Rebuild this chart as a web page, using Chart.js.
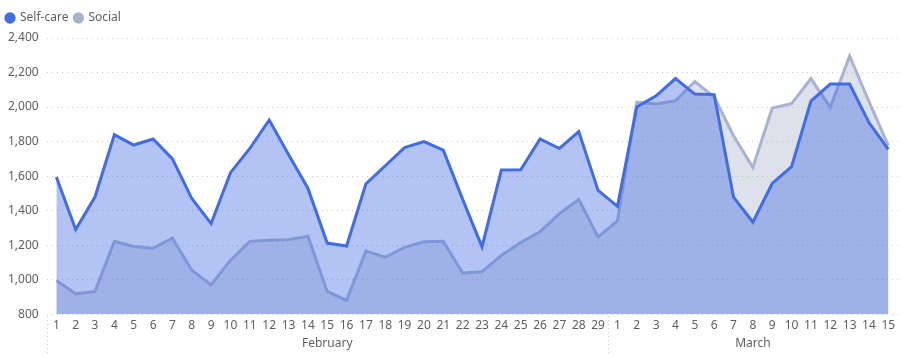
<!DOCTYPE html>
<html>
<head>
<meta charset="utf-8">
<script src="https://cdn.jsdelivr.net/npm/chart.js@4/dist/chart.umd.min.js"></script>
<style>
  html, body { margin: 0; padding: 0; background: #fff; }
  #wrap { width: 902px; height: 357px; position: relative; }
</style>
</head>
<body>
<div id="wrap"><canvas id="c" width="902" height="357"></canvas></div>
<script>
// ---- Data ----
const months = ['February', 'March'];
const monthDayCounts = [29, 15];
const dayLabels = [
  '1','2','3','4','5','6','7','8','9','10','11','12','13','14','15','16','17','18','19','20',
  '21','22','23','24','25','26','27','28','29',
  '1','2','3','4','5','6','7','8','9','10','11','12','13','14','15'
];
const selfCare = [
  1595, 1290, 1480, 1840, 1780, 1815, 1700, 1470, 1325, 1620, 1760, 1925, 1725, 1530, 1212,
  1195, 1555, 1660, 1765, 1800, 1750, 1465, 1190, 1635, 1637, 1815, 1760, 1858, 1517,
  1425, 2000, 2065, 2165, 2075, 2072, 1478, 1333, 1558, 1655, 2035, 2133, 2133, 1910, 1755
];
const social = [
  995, 918, 932, 1222, 1192, 1182, 1242, 1055, 970, 1113, 1222, 1228, 1232, 1252, 932,
  880, 1165, 1130, 1187, 1220, 1222, 1038, 1046, 1140, 1215, 1278, 1382, 1464, 1248,
  1340, 2028, 2018, 2036, 2148, 2058, 1834, 1650, 1995, 2020, 2165, 1998, 2296, 2032, 1776
];
const yTicks = { min: 800, max: 2400, step: 200 };

// month centers / boundaries (in category index units)
function monthInfo() {
  const centers = [], bounds = [-0.5];
  let start = 0;
  monthDayCounts.forEach(n => {
    centers.push(start + (n - 1) / 2);
    start += n;
    bounds.push(start - 0.5);
  });
  return { centers, bounds };
}
const mi = monthInfo();

const txt = '#605E5C';
const fontFam = '"Noto Sans", "Open Sans", "DejaVu Sans", sans-serif';

const separatorPlugin = {
  id: 'sep',
  afterDraw(chart) {
    const x2 = chart.scales.x2;
    const ctx = chart.ctx;
    ctx.save();
    ctx.strokeStyle = '#C8C6C4';
    ctx.lineWidth = 1;
    ctx.setLineDash([1, 3]);
    mi.bounds.slice(0, -1).forEach(b => {
      const px = Math.round(x2.getPixelForValue(b)) + 0.5;
      ctx.beginPath();
      ctx.moveTo(px, chart.chartArea.bottom + 2);
      ctx.lineTo(px, x2.bottom + 2);
      ctx.stroke();
    });
    ctx.restore();
  }
};

const legendGap = {
  id: 'legendGap',
  beforeInit(chart) {
    const lg = chart.legend;
    const orig = lg.fit;
    lg.fit = function () {
      orig.call(this);
      this.height += 4;
    };
  }
};

new Chart(document.getElementById('c'), {
  type: 'line',
  data: {
    labels: dayLabels,
    datasets: [
      {
        label: 'Self-care',
        data: selfCare,
        borderColor: 'rgb(65,108,228)',
        backgroundColor: 'rgba(65,108,228,0.4)',
        fill: 'start',
        borderWidth: 3,
        pointRadius: 0,
        tension: 0
      },
      {
        label: 'Social',
        data: social,
        borderColor: 'rgb(168,179,208)',
        backgroundColor: 'rgba(168,179,208,0.4)',
        fill: 'start',
        borderWidth: 3,
        pointRadius: 0,
        tension: 0
      }
    ]
  },
  options: {
    responsive: false,
    animation: false,
    layout: { padding: { left: 0, right: 4, top: 6, bottom: 6 } },
    plugins: {
      legend: {
        position: 'top',
        align: 'start',
        labels: {
          usePointStyle: true,
          pointStyle: 'circle',
          boxWidth: 8,
          boxHeight: 8,
          padding: 6,
          color: txt,
          font: { family: fontFam, size: 12 },
          generateLabels(chart) {
            return chart.data.datasets.map((ds, i) => ({
              text: ds.label,
              fillStyle: ds.borderColor,
              strokeStyle: ds.borderColor,
              lineWidth: 0,
              pointStyle: 'circle',
              fontColor: txt,
              hidden: !chart.isDatasetVisible(i),
              datasetIndex: i
            }));
          }
        }
      },
      tooltip: { enabled: false }
    },
    scales: {
      x: {
        type: 'category',
        offset: true,
        grid: { display: false, drawTicks: false },
        border: { display: false },
        ticks: {
          autoSkip: false, maxRotation: 0, minRotation: 0,
          color: txt, padding: 4,
          font: { family: fontFam, size: 12 }
        }
      },
      x2: {
        type: 'linear',
        position: 'bottom',
        min: -0.5,
        max: dayLabels.length - 0.5,
        grid: { display: false, drawTicks: false },
        border: { display: false },
        afterBuildTicks(scale) {
          scale.ticks = mi.centers.map(v => ({ value: v }));
        },
        ticks: {
          color: txt, padding: 0, maxRotation: 0,
          font: { family: fontFam, size: 12 },
          callback(v) {
            const i = mi.centers.indexOf(v);
            return i >= 0 ? months[i] : '';
          }
        }
      },
      y: {
        min: yTicks.min,
        max: yTicks.max,
        grid: {
          color: '#C8C6C4',
          drawTicks: false,
          lineWidth: 1
        },
        border: { display: false, dash: [1, 4] },
        ticks: {
          stepSize: yTicks.step,
          padding: 8,
          color: txt,
          font: { family: fontFam, size: 12 },
          callback: v => v.toLocaleString('en-US')
        }
      }
    }
  },
  plugins: [separatorPlugin, legendGap]
});
</script>
</body>
</html>
